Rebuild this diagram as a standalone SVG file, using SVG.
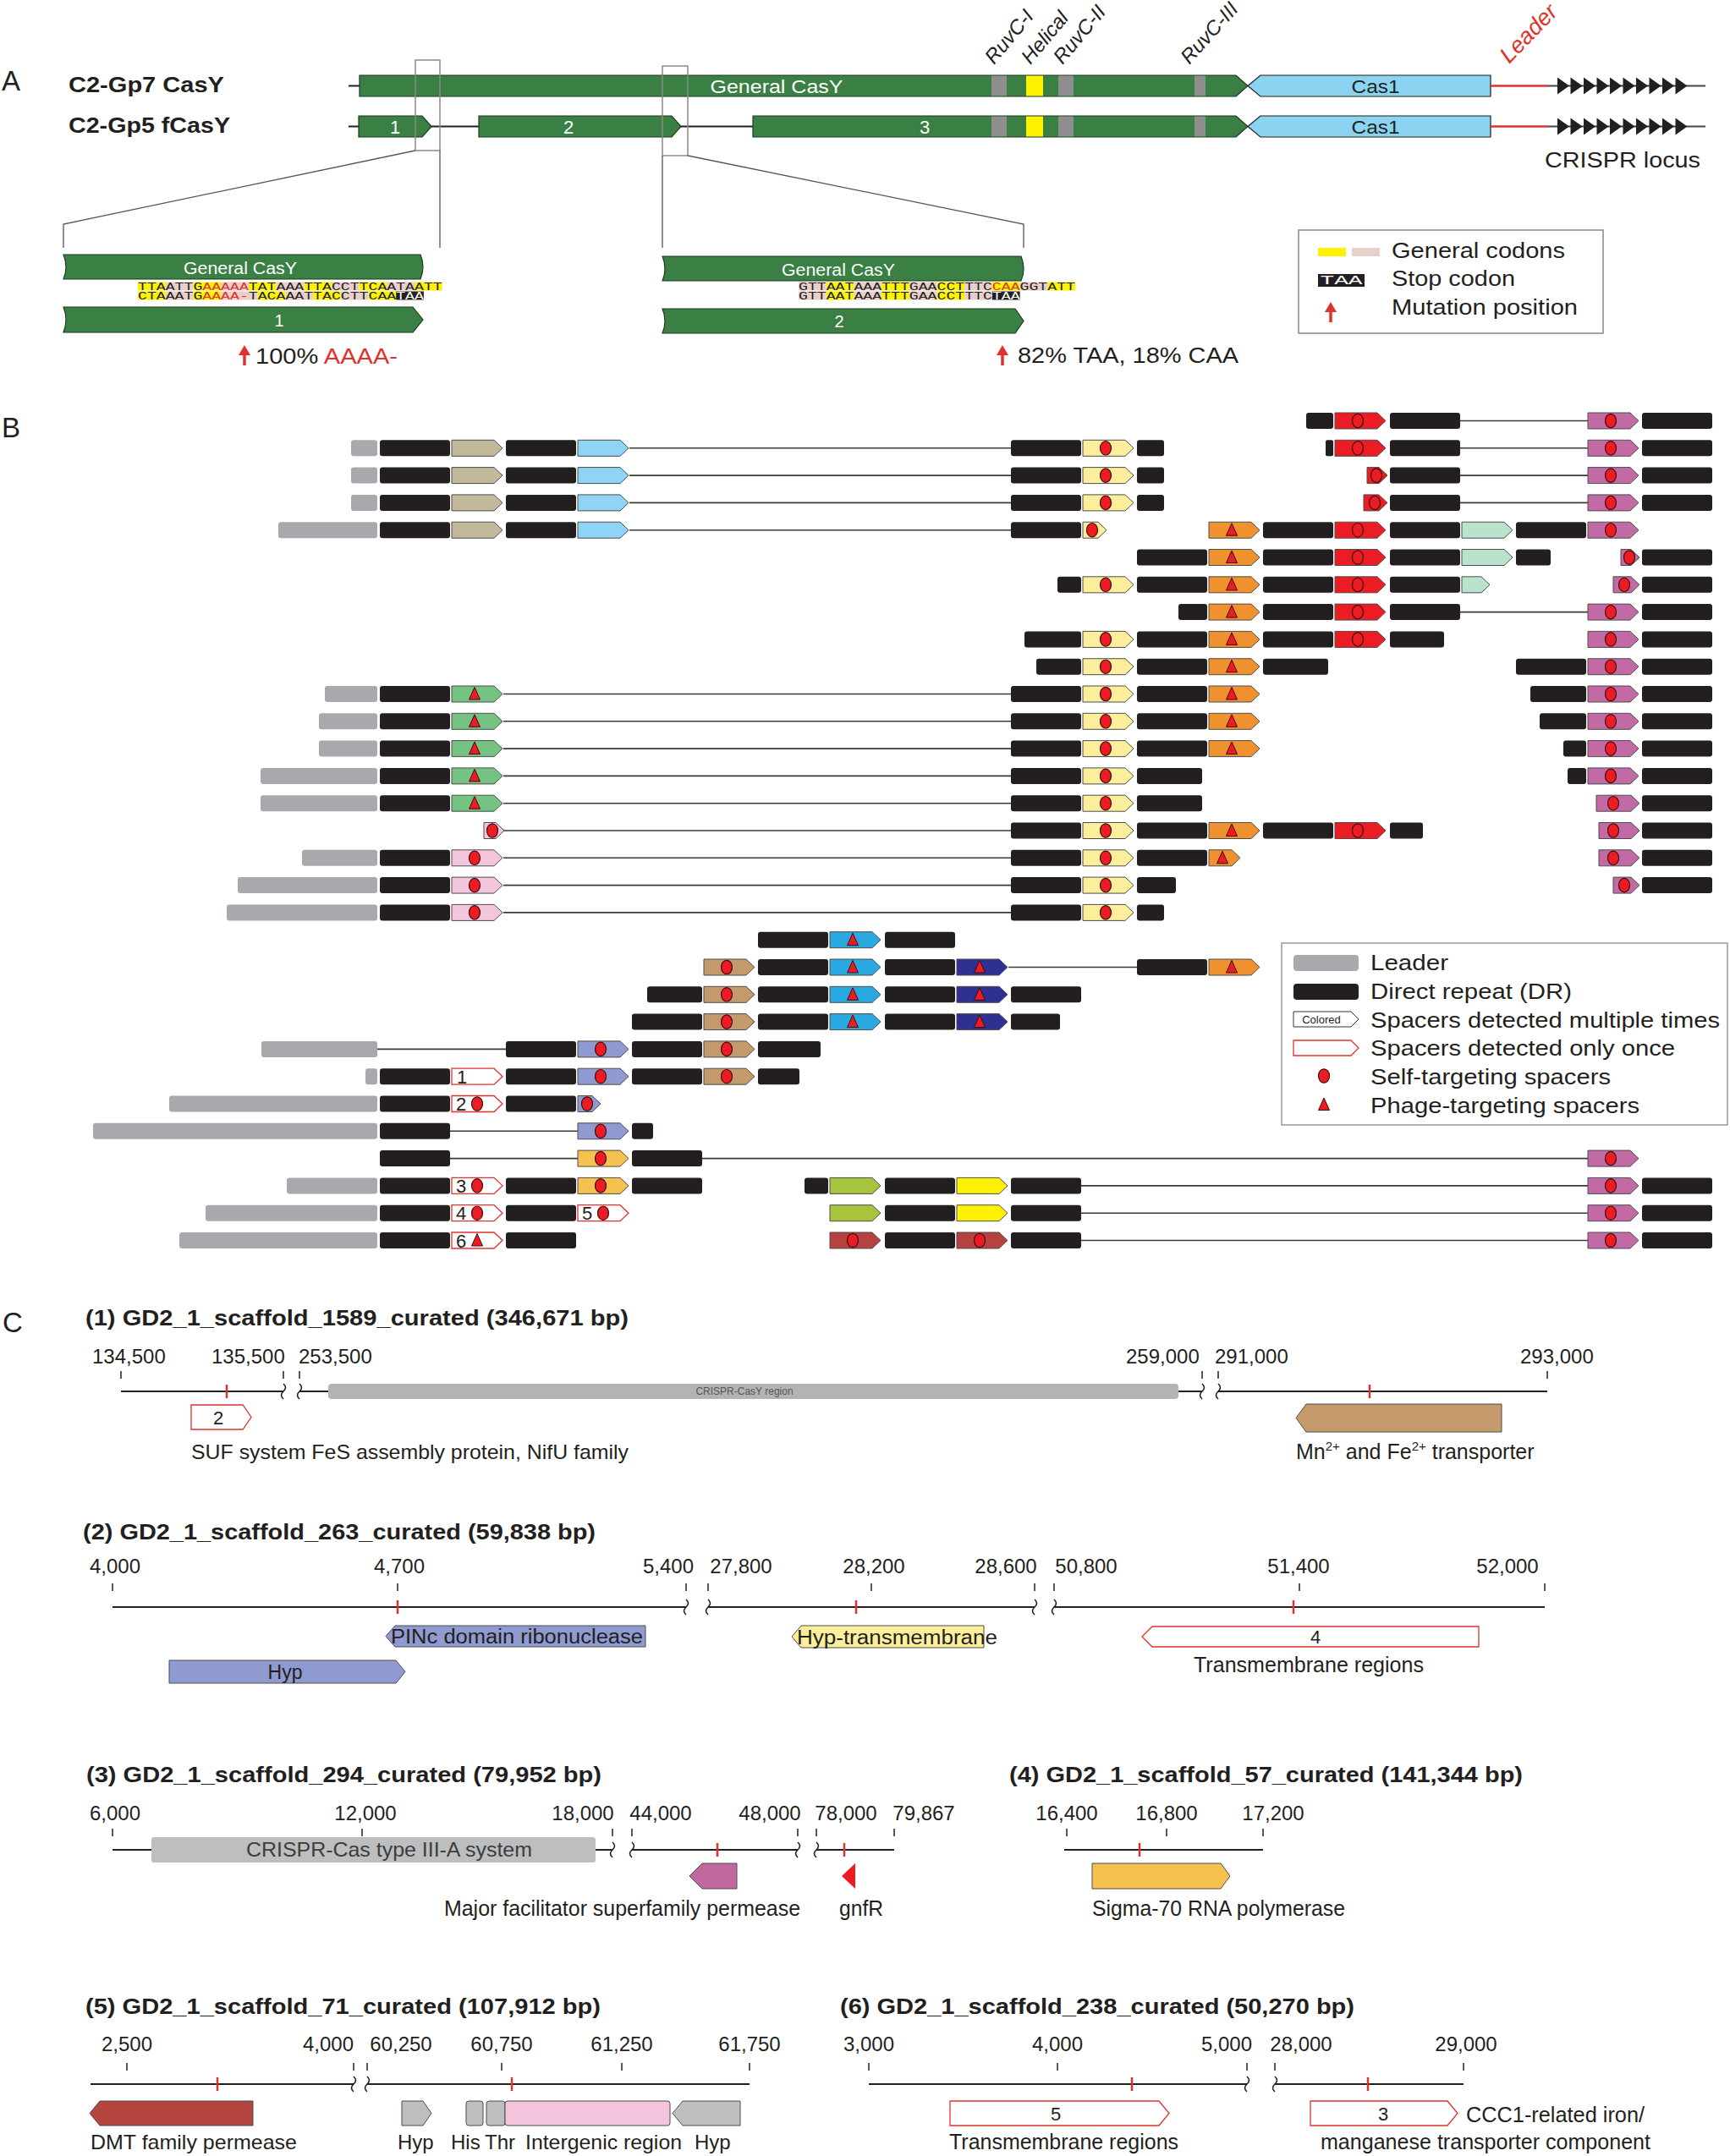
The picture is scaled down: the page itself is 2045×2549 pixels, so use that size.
<svg xmlns="http://www.w3.org/2000/svg" width="2045" height="2549" viewBox="0 0 2045 2549">
<style>
text{font-family:"Liberation Sans",Arial,sans-serif;fill:#231f20}
.b{font-weight:bold}
.wt{fill:#fff}
.it{font-style:italic}
.dr{fill:#231f20}
.ld{fill:#a7a9ac}
.s{stroke:#4d4d4d;stroke-width:1}
.so{fill:#fff;stroke:#e0322c;stroke-width:1.3}
.dt{fill:#ed1c24;stroke:#3b0d0d;stroke-width:1.2}
.tr{fill:#ed1c24;stroke:#3b0d0d;stroke-width:1}
.ln{stroke:#3a3a3a;stroke-width:1.6}
.num{font-size:22px}
.gbar{fill:#3a7f43;stroke:#1e3b22;stroke-width:1.2}
.band{fill:#8e8e8e}
.ybd{fill:#fff200}
.cas1{fill:#8ad3f1;stroke:#231f20;stroke-width:1.2}
.zl{fill:none;stroke:#555;stroke-width:1.3}
.zr{fill:none;stroke:#8a8a8a;stroke-width:1.5}
.seq{font-family:"Liberation Mono","DejaVu Sans Mono",monospace;font-size:12px}
.cy{fill:#fff200}.cp{fill:#e8cfcb}.ck{fill:#231f20}
.lg{font-size:26px}
.tt{font-size:26px;font-weight:bold}
.tl{font-size:24px;text-anchor:middle}
.gl{font-size:24px}
.ax{stroke:#231f20;stroke-width:2;fill:none}
.brk{stroke:#231f20;stroke-width:1.6;fill:none}
.tk{stroke:#231f20;stroke-width:1.5}
.rt{stroke:#e0322c;stroke-width:2.5}
.gs{stroke:#4d4d4d;stroke-width:1}
.c-tan{fill:#c4b89a}.c-lb{fill:#8fd4f5}.c-yl{fill:#fcef9c}.c-rd{fill:#ec1c24}.c-mv{fill:#c26aa4}.c-or{fill:#f0912f}.c-mt{fill:#b9e3cd}.c-gr{fill:#75c382}.c-pk{fill:#f4c6de}.c-bl{fill:#29a9e0}.c-db{fill:#2e3192}.c-br{fill:#c49a6c}.c-lv{fill:#8f9ad0}.c-gd{fill:#f5c14f}.c-ol{fill:#a7c43d}.c-by{fill:#fff200}.c-dr{fill:#b5423e}
</style>
<defs>
<path id="sp" d="M0,-9.5H50L60,0L50,9.5H0Z"/>
<ellipse id="dt" rx="6.5" ry="8.2"/>
<path id="tr" d="M0,-8L6.5,6.5H-6.5Z"/>
<path id="ah" d="M0,-10L14,0L0,10Z"/>
</defs>
<rect width="2045" height="2549" fill="#fff"/>

<!-- ================= PANEL A ================= -->
<g id="panel-a-labels">
<text x="2" y="107" font-size="33">A</text>
<text x="81" y="109" class="b" font-size="26" textLength="184" lengthAdjust="spacingAndGlyphs">C2-Gp7 CasY</text>
<text x="81" y="157" class="b" font-size="26" textLength="191" lengthAdjust="spacingAndGlyphs">C2-Gp5 fCasY</text>
</g>

<g id="a-row1">
<line x1="412" y1="101.5" x2="425" y2="101.5" stroke="#231f20" stroke-width="2"/>
<path class="gbar" d="M425,89H1461L1475,101.5L1461,114H425Z"/>
<rect class="band" x="1172" y="89.6" width="18" height="23.8"/>
<rect class="ybd" x="1213" y="89.6" width="20" height="23.8"/>
<rect class="band" x="1251" y="89.6" width="18" height="23.8"/>
<rect class="band" x="1412" y="89.6" width="13" height="23.8"/>
<text x="918" y="110" class="wt" font-size="22" text-anchor="middle" textLength="157" lengthAdjust="spacingAndGlyphs">General CasY</text>
<path class="cas1" d="M1475,101.5L1490,89H1762V114H1490Z"/>
<text x="1626" y="110" font-size="22" text-anchor="middle" textLength="57" lengthAdjust="spacingAndGlyphs">Cas1</text>
<line x1="1830" y1="101.5" x2="2016" y2="101.5" stroke="#444" stroke-width="2"/>
<line x1="1762" y1="101.5" x2="1830" y2="101.5" stroke="#e0322c" stroke-width="2.5"/>
<g fill="#231f20">
<use href="#ah" x="1841" y="101.5"/><use href="#ah" x="1856.5" y="101.5"/><use href="#ah" x="1872" y="101.5"/><use href="#ah" x="1887.5" y="101.5"/><use href="#ah" x="1903" y="101.5"/><use href="#ah" x="1918.5" y="101.5"/><use href="#ah" x="1934" y="101.5"/><use href="#ah" x="1949.5" y="101.5"/><use href="#ah" x="1965" y="101.5"/><use href="#ah" x="1980.5" y="101.5"/>
</g>
</g>

<g id="a-row2">
<line x1="412" y1="149.5" x2="890" y2="149.5" stroke="#231f20" stroke-width="2"/>
<path class="gbar" d="M424,137H499L510,149.5L499,162H424Z"/>
<text x="467" y="158" class="wt" font-size="22" text-anchor="middle">1</text>
<path class="gbar" d="M566,137H794L805,149.5L794,162H566Z"/>
<text x="672" y="158" class="wt" font-size="22" text-anchor="middle">2</text>
<path class="gbar" d="M890,137H1461L1475,149.5L1461,162H890Z"/>
<text x="1093" y="158" class="wt" font-size="22" text-anchor="middle">3</text>
<rect class="band" x="1172" y="137.6" width="18" height="23.8"/>
<rect class="ybd" x="1213" y="137.6" width="20" height="23.8"/>
<rect class="band" x="1251" y="137.6" width="18" height="23.8"/>
<rect class="band" x="1412" y="137.6" width="13" height="23.8"/>
<path class="cas1" d="M1475,149.5L1490,137H1762V162H1490Z"/>
<text x="1626" y="158" font-size="22" text-anchor="middle" textLength="57" lengthAdjust="spacingAndGlyphs">Cas1</text>
<line x1="1830" y1="149.5" x2="2016" y2="149.5" stroke="#444" stroke-width="2"/>
<line x1="1762" y1="149.5" x2="1830" y2="149.5" stroke="#e0322c" stroke-width="2.5"/>
<g fill="#231f20">
<use href="#ah" x="1841" y="149.5"/><use href="#ah" x="1856.5" y="149.5"/><use href="#ah" x="1872" y="149.5"/><use href="#ah" x="1887.5" y="149.5"/><use href="#ah" x="1903" y="149.5"/><use href="#ah" x="1918.5" y="149.5"/><use href="#ah" x="1934" y="149.5"/><use href="#ah" x="1949.5" y="149.5"/><use href="#ah" x="1965" y="149.5"/><use href="#ah" x="1980.5" y="149.5"/>
</g>
<text x="1918" y="198" font-size="26" text-anchor="middle" textLength="184" lengthAdjust="spacingAndGlyphs">CRISPR locus</text>
</g>

<g id="a-domain-labels" font-size="24">
<text class="it" transform="translate(1175,77) rotate(-50)">RuvC-I</text>
<text class="it" transform="translate(1218,77) rotate(-50)">Helical</text>
<text class="it" transform="translate(1256,77) rotate(-50)">RuvC-II</text>
<text class="it" transform="translate(1406,77) rotate(-48)">RuvC-III</text>
<text class="it" transform="translate(1784,76) rotate(-46)" font-size="27" style="fill:#e0322c">Leader</text>
</g>

<g id="a-zoom-connectors">
<rect class="zr" x="491" y="71" width="29" height="107"/>
<rect class="zr" x="783" y="78" width="30" height="106"/>
<polyline class="zl" points="491,178 75,265 75,293"/>
<line class="zl" x1="520" y1="178" x2="520" y2="293"/>
<line class="zl" x1="783" y1="184" x2="783" y2="293"/>
<polyline class="zl" points="813,184 1210,265 1210,293"/>
</g>

<g id="a-zoom-left">
<path class="gbar" d="M75,301H497Q503,315.5 497,330H75Q81,315.5 75,301Z"/>
<text x="284" y="324" class="wt" font-size="20" text-anchor="middle" textLength="134" lengthAdjust="spacingAndGlyphs">General CasY</text>
<rect class="cy" x="163" y="333.5" width="32.7" height="10"/><rect class="cp" x="195.7" y="333.5" width="32.7" height="10"/><rect class="cy" x="228.4" y="333.5" width="32.7" height="10"/><rect class="cp" x="261.1" y="333.5" width="32.7" height="10"/><rect class="cy" x="293.8" y="333.5" width="32.7" height="10"/><rect class="cp" x="326.5" y="333.5" width="32.7" height="10"/><rect class="cy" x="359.2" y="333.5" width="32.7" height="10"/><rect class="cp" x="391.9" y="333.5" width="32.7" height="10"/><rect class="cy" x="424.6" y="333.5" width="32.7" height="10"/><rect class="cp" x="457.3" y="333.5" width="32.7" height="10"/><rect class="cy" x="490" y="333.5" width="32.7" height="10"/>
<text class="seq" x="163" y="342.5" textLength="359.7" lengthAdjust="spacingAndGlyphs">TTAATTG<tspan style="fill:#e0322c">AAAAA</tspan>TATAAATTACCTTCAATAATT</text>
<rect class="cy" x="163" y="344.5" width="32.7" height="10"/><rect class="cp" x="195.7" y="344.5" width="32.7" height="10"/><rect class="cy" x="228.4" y="344.5" width="32.7" height="10"/><rect class="cp" x="261.1" y="344.5" width="43.6" height="10"/><rect class="cy" x="304.7" y="344.5" width="32.7" height="10"/><rect class="cp" x="337.4" y="344.5" width="32.7" height="10"/><rect class="cy" x="370.1" y="344.5" width="32.7" height="10"/><rect class="cp" x="402.8" y="344.5" width="32.7" height="10"/><rect class="cy" x="435.5" y="344.5" width="32.7" height="10"/><rect class="ck" x="468.2" y="344.5" width="32.7" height="10"/>
<text class="seq" x="163" y="353.5" textLength="337.9" lengthAdjust="spacingAndGlyphs">CTAAATG<tspan style="fill:#e0322c">AAAA-</tspan>TACAAATTACCTTCAA<tspan style="fill:#fff">TAA</tspan></text>
<path class="gbar" d="M75,363H488L500,378L488,393H75Q81,378 75,363Z"/>
<text x="330" y="386" class="wt" font-size="20" text-anchor="middle">1</text>
<path d="M289,432V417" stroke="#e0322c" stroke-width="3.5"/>
<path d="M282,420L289,408L296,420Z" fill="#e0322c"/>
<text x="302" y="430" font-size="26" textLength="168" lengthAdjust="spacingAndGlyphs">100% <tspan style="fill:#e0322c">AAAA-</tspan></text>
</g>

<g id="a-zoom-right">
<path class="gbar" d="M783,303H1207Q1213,317.5 1207,332H783Q789,317.5 783,303Z"/>
<text x="991" y="326" class="wt" font-size="20" text-anchor="middle" textLength="134" lengthAdjust="spacingAndGlyphs">General CasY</text>
<rect class="cp" x="944" y="333.5" width="32.7" height="10"/><rect class="cy" x="976.7" y="333.5" width="32.7" height="10"/><rect class="cp" x="1009.4" y="333.5" width="32.7" height="10"/><rect class="cy" x="1042.1" y="333.5" width="32.7" height="10"/><rect class="cp" x="1074.8" y="333.5" width="32.7" height="10"/><rect class="cy" x="1107.5" y="333.5" width="32.7" height="10"/><rect class="cp" x="1140.2" y="333.5" width="32.7" height="10"/><rect class="cy" x="1172.9" y="333.5" width="32.7" height="10"/><rect class="cp" x="1205.6" y="333.5" width="32.7" height="10"/><rect class="cy" x="1238.3" y="333.5" width="32.7" height="10"/>
<text class="seq" x="944" y="342.5" textLength="327" lengthAdjust="spacingAndGlyphs">GTTAATAAATTTGAACCTTTC<tspan style="fill:#e0322c">CAA</tspan>GGTATT</text>
<rect class="cp" x="944" y="344.5" width="32.7" height="10"/><rect class="cy" x="976.7" y="344.5" width="32.7" height="10"/><rect class="cp" x="1009.4" y="344.5" width="32.7" height="10"/><rect class="cy" x="1042.1" y="344.5" width="32.7" height="10"/><rect class="cp" x="1074.8" y="344.5" width="32.7" height="10"/><rect class="cy" x="1107.5" y="344.5" width="32.7" height="10"/><rect class="cp" x="1140.2" y="344.5" width="32.7" height="10"/><rect class="ck" x="1172.9" y="344.5" width="32.7" height="10"/>
<text class="seq" x="944" y="353.5" textLength="261.6" lengthAdjust="spacingAndGlyphs">GTTAATAAATTTGAACCTTTC<tspan style="fill:#fff">TAA</tspan></text>
<path class="gbar" d="M783,365H1200L1210,379.5L1200,394H783Q789,379.5 783,365Z"/>
<text x="992" y="387" class="wt" font-size="20" text-anchor="middle">2</text>
<path d="M1185,432V417" stroke="#e0322c" stroke-width="3.5"/>
<path d="M1178,420L1185,408L1192,420Z" fill="#e0322c"/>
<text x="1203" y="429" font-size="26" textLength="261" lengthAdjust="spacingAndGlyphs">82% TAA, 18% CAA</text>
</g>

<g id="a-legend">
<rect x="1535" y="272" width="360" height="122" fill="#fff" stroke="#888" stroke-width="1.5"/>
<rect class="cy" x="1558" y="293" width="33" height="10"/>
<rect class="cp" x="1598" y="293" width="33" height="10"/>
<text x="1645" y="305" class="lg" textLength="205" lengthAdjust="spacingAndGlyphs">General codons</text>
<rect x="1558" y="324" width="55" height="15" fill="#231f20"/>
<text x="1585.5" y="336" class="seq" text-anchor="middle" style="fill:#fff;font-size:15px" textLength="50" lengthAdjust="spacingAndGlyphs">TAA</text>
<text x="1645" y="338" class="lg" textLength="146" lengthAdjust="spacingAndGlyphs">Stop codon</text>
<path d="M1573,381V366" stroke="#e0322c" stroke-width="3.5"/>
<path d="M1566,369L1573,357L1580,369Z" fill="#e0322c"/>
<text x="1645" y="372" class="lg" textLength="220" lengthAdjust="spacingAndGlyphs">Mutation position</text>
</g>

<!-- ================= PANEL B ================= -->
<text x="2" y="517" font-size="33">B</text>

<g id="b-rows">
<g id="b-r0" transform="translate(0,497.5)">
<line class="ln" x1="1726" x2="1877"/>
<rect class="dr" x="1544" y="-9.5" width="32" height="19" rx="3"/>
<use href="#sp" x="1578" class="s c-rd"/><use href="#dt" x="1605" class="dt"/>
<rect class="dr" x="1643" y="-9.5" width="83" height="19" rx="3"/>
<use href="#sp" x="1877" class="s c-mv"/><use href="#dt" x="1904" class="dt"/>
<rect class="dr" x="1941" y="-9.5" width="83" height="19" rx="3"/>
</g>
<g id="b-r1" transform="translate(0,529.8)">
<line class="ln" x1="744" x2="1195"/><line class="ln" x1="1726" x2="1877"/>
<rect class="ld" x="415" y="-9.5" width="31" height="19" rx="3"/>
<rect class="dr" x="449" y="-9.5" width="83" height="19" rx="3"/>
<use href="#sp" x="534" class="s c-tan"/>
<rect class="dr" x="598" y="-9.5" width="83" height="19" rx="3"/>
<use href="#sp" x="683" class="s c-lb"/>
<rect class="dr" x="1195" y="-9.5" width="83" height="19" rx="3"/>
<use href="#sp" x="1280" class="s c-yl"/><use href="#dt" x="1307" class="dt"/>
<rect class="dr" x="1344" y="-9.5" width="32" height="19" rx="3"/>
<rect class="dr" x="1567" y="-9.5" width="9" height="19" rx="2"/>
<use href="#sp" x="1578" class="s c-rd"/><use href="#dt" x="1605" class="dt"/>
<rect class="dr" x="1643" y="-9.5" width="83" height="19" rx="3"/>
<use href="#sp" x="1877" class="s c-mv"/><use href="#dt" x="1904" class="dt"/>
<rect class="dr" x="1941" y="-9.5" width="83" height="19" rx="3"/>
</g>
<g id="b-r2" transform="translate(0,562.1)">
<line class="ln" x1="744" x2="1195"/><line class="ln" x1="1726" x2="1877"/>
<rect class="ld" x="415" y="-9.5" width="31" height="19" rx="3"/>
<rect class="dr" x="449" y="-9.5" width="83" height="19" rx="3"/>
<use href="#sp" x="534" class="s c-tan"/>
<rect class="dr" x="598" y="-9.5" width="83" height="19" rx="3"/>
<use href="#sp" x="683" class="s c-lb"/>
<rect class="dr" x="1195" y="-9.5" width="83" height="19" rx="3"/>
<use href="#sp" x="1280" class="s c-yl"/><use href="#dt" x="1307" class="dt"/>
<rect class="dr" x="1344" y="-9.5" width="32" height="19" rx="3"/>
<path class="s c-rd" d="M1616,-9.5H1630L1640,0L1630,9.5H1616Z"/><use href="#dt" x="1627" class="dt"/>
<rect class="dr" x="1643" y="-9.5" width="83" height="19" rx="3"/>
<use href="#sp" x="1877" class="s c-mv"/><use href="#dt" x="1904" class="dt"/>
<rect class="dr" x="1941" y="-9.5" width="83" height="19" rx="3"/>
</g>
<g id="b-r3" transform="translate(0,594.4)">
<line class="ln" x1="744" x2="1195"/><line class="ln" x1="1726" x2="1877"/>
<rect class="ld" x="415" y="-9.5" width="31" height="19" rx="3"/>
<rect class="dr" x="449" y="-9.5" width="83" height="19" rx="3"/>
<use href="#sp" x="534" class="s c-tan"/>
<rect class="dr" x="598" y="-9.5" width="83" height="19" rx="3"/>
<use href="#sp" x="683" class="s c-lb"/>
<rect class="dr" x="1195" y="-9.5" width="83" height="19" rx="3"/>
<use href="#sp" x="1280" class="s c-yl"/><use href="#dt" x="1307" class="dt"/>
<rect class="dr" x="1344" y="-9.5" width="32" height="19" rx="3"/>
<path class="s c-rd" d="M1612,-9.5H1630L1640,0L1630,9.5H1612Z"/><use href="#dt" x="1625" class="dt"/>
<rect class="dr" x="1643" y="-9.5" width="83" height="19" rx="3"/>
<use href="#sp" x="1877" class="s c-mv"/><use href="#dt" x="1904" class="dt"/>
<rect class="dr" x="1941" y="-9.5" width="83" height="19" rx="3"/>
</g>
<g id="b-r4" transform="translate(0,626.7)">
<line class="ln" x1="744" x2="1195"/>
<rect class="ld" x="329" y="-9.5" width="117" height="19" rx="3"/>
<rect class="dr" x="449" y="-9.5" width="83" height="19" rx="3"/>
<use href="#sp" x="534" class="s c-tan"/>
<rect class="dr" x="598" y="-9.5" width="83" height="19" rx="3"/>
<use href="#sp" x="683" class="s c-lb"/>
<rect class="dr" x="1195" y="-9.5" width="83" height="19" rx="3"/>
<path class="s c-yl" d="M1280,-9.5H1298L1308,0L1298,9.5H1280Z"/><use href="#dt" x="1291" class="dt"/>
<use href="#sp" x="1429" class="s c-or"/><use href="#tr" x="1456" class="tr"/>
<rect class="dr" x="1493" y="-9.5" width="83" height="19" rx="3"/>
<use href="#sp" x="1578" class="s c-rd"/><use href="#dt" x="1605" class="dt"/>
<rect class="dr" x="1643" y="-9.5" width="83" height="19" rx="3"/>
<use href="#sp" x="1728" class="s c-mt"/>
<rect class="dr" x="1792" y="-9.5" width="83" height="19" rx="3"/>
<use href="#sp" x="1877" class="s c-mv"/><use href="#dt" x="1904" class="dt"/>
</g>
<g id="b-r5" transform="translate(0,659)">
<rect class="dr" x="1344" y="-9.5" width="83" height="19" rx="3"/>
<use href="#sp" x="1429" class="s c-or"/><use href="#tr" x="1456" class="tr"/>
<rect class="dr" x="1493" y="-9.5" width="83" height="19" rx="3"/>
<use href="#sp" x="1578" class="s c-rd"/><use href="#dt" x="1605" class="dt"/>
<rect class="dr" x="1643" y="-9.5" width="83" height="19" rx="3"/>
<use href="#sp" x="1728" class="s c-mt"/>
<rect class="dr" x="1792" y="-9.5" width="41" height="19" rx="3"/>
<path class="s c-mv" d="M1916,-9.5H1928L1938,0L1928,9.5H1916Z"/><use href="#dt" x="1926" class="dt"/>
<rect class="dr" x="1941" y="-9.5" width="83" height="19" rx="3"/>
</g>
<g id="b-r6" transform="translate(0,691.3)">
<rect class="dr" x="1250" y="-9.5" width="28" height="19" rx="3"/>
<use href="#sp" x="1280" class="s c-yl"/><use href="#dt" x="1307" class="dt"/>
<rect class="dr" x="1344" y="-9.5" width="83" height="19" rx="3"/>
<use href="#sp" x="1429" class="s c-or"/><use href="#tr" x="1456" class="tr"/>
<rect class="dr" x="1493" y="-9.5" width="83" height="19" rx="3"/>
<use href="#sp" x="1578" class="s c-rd"/><use href="#dt" x="1605" class="dt"/>
<rect class="dr" x="1643" y="-9.5" width="83" height="19" rx="3"/>
<path class="s c-mt" d="M1728,-9.5H1751L1761,0L1751,9.5H1728Z"/>
<path class="s c-mv" d="M1907,-9.5H1928L1938,0L1928,9.5H1907Z"/><use href="#dt" x="1920" class="dt"/>
<rect class="dr" x="1941" y="-9.5" width="83" height="19" rx="3"/>
</g>
<g id="b-r7" transform="translate(0,723.6)">
<line class="ln" x1="1726" x2="1877"/>
<rect class="dr" x="1393" y="-9.5" width="34" height="19" rx="3"/>
<use href="#sp" x="1429" class="s c-or"/><use href="#tr" x="1456" class="tr"/>
<rect class="dr" x="1493" y="-9.5" width="83" height="19" rx="3"/>
<use href="#sp" x="1578" class="s c-rd"/><use href="#dt" x="1605" class="dt"/>
<rect class="dr" x="1643" y="-9.5" width="83" height="19" rx="3"/>
<use href="#sp" x="1877" class="s c-mv"/><use href="#dt" x="1904" class="dt"/>
<rect class="dr" x="1941" y="-9.5" width="83" height="19" rx="3"/>
</g>
<g id="b-r8" transform="translate(0,755.9)">
<rect class="dr" x="1211" y="-9.5" width="67" height="19" rx="3"/>
<use href="#sp" x="1280" class="s c-yl"/><use href="#dt" x="1307" class="dt"/>
<rect class="dr" x="1344" y="-9.5" width="83" height="19" rx="3"/>
<use href="#sp" x="1429" class="s c-or"/><use href="#tr" x="1456" class="tr"/>
<rect class="dr" x="1493" y="-9.5" width="83" height="19" rx="3"/>
<use href="#sp" x="1578" class="s c-rd"/><use href="#dt" x="1605" class="dt"/>
<rect class="dr" x="1643" y="-9.5" width="64" height="19" rx="3"/>
<use href="#sp" x="1877" class="s c-mv"/><use href="#dt" x="1904" class="dt"/>
<rect class="dr" x="1941" y="-9.5" width="83" height="19" rx="3"/>
</g>
<g id="b-r9" transform="translate(0,788.2)">
<rect class="dr" x="1225" y="-9.5" width="53" height="19" rx="3"/>
<use href="#sp" x="1280" class="s c-yl"/><use href="#dt" x="1307" class="dt"/>
<rect class="dr" x="1344" y="-9.5" width="83" height="19" rx="3"/>
<use href="#sp" x="1429" class="s c-or"/><use href="#tr" x="1456" class="tr"/>
<rect class="dr" x="1493" y="-9.5" width="77" height="19" rx="3"/>
<rect class="dr" x="1792" y="-9.5" width="83" height="19" rx="3"/>
<use href="#sp" x="1877" class="s c-mv"/><use href="#dt" x="1904" class="dt"/>
<rect class="dr" x="1941" y="-9.5" width="83" height="19" rx="3"/>
</g>
<g id="b-r10" transform="translate(0,820.5)">
<line class="ln" x1="595" x2="1195"/>
<rect class="ld" x="384" y="-9.5" width="62" height="19" rx="3"/>
<rect class="dr" x="449" y="-9.5" width="83" height="19" rx="3"/>
<use href="#sp" x="534" class="s c-gr"/><use href="#tr" x="561" class="tr"/>
<rect class="dr" x="1195" y="-9.5" width="83" height="19" rx="3"/>
<use href="#sp" x="1280" class="s c-yl"/><use href="#dt" x="1307" class="dt"/>
<rect class="dr" x="1344" y="-9.5" width="83" height="19" rx="3"/>
<use href="#sp" x="1429" class="s c-or"/><use href="#tr" x="1456" class="tr"/>
<rect class="dr" x="1809" y="-9.5" width="66" height="19" rx="3"/>
<use href="#sp" x="1877" class="s c-mv"/><use href="#dt" x="1904" class="dt"/>
<rect class="dr" x="1941" y="-9.5" width="83" height="19" rx="3"/>
</g>
<g id="b-r11" transform="translate(0,852.8)">
<line class="ln" x1="595" x2="1195"/>
<rect class="ld" x="377" y="-9.5" width="69" height="19" rx="3"/>
<rect class="dr" x="449" y="-9.5" width="83" height="19" rx="3"/>
<use href="#sp" x="534" class="s c-gr"/><use href="#tr" x="561" class="tr"/>
<rect class="dr" x="1195" y="-9.5" width="83" height="19" rx="3"/>
<use href="#sp" x="1280" class="s c-yl"/><use href="#dt" x="1307" class="dt"/>
<rect class="dr" x="1344" y="-9.5" width="83" height="19" rx="3"/>
<use href="#sp" x="1429" class="s c-or"/><use href="#tr" x="1456" class="tr"/>
<rect class="dr" x="1820" y="-9.5" width="55" height="19" rx="3"/>
<use href="#sp" x="1877" class="s c-mv"/><use href="#dt" x="1904" class="dt"/>
<rect class="dr" x="1941" y="-9.5" width="83" height="19" rx="3"/>
</g>
<g id="b-r12" transform="translate(0,885.1)">
<line class="ln" x1="595" x2="1195"/>
<rect class="ld" x="377" y="-9.5" width="69" height="19" rx="3"/>
<rect class="dr" x="449" y="-9.5" width="83" height="19" rx="3"/>
<use href="#sp" x="534" class="s c-gr"/><use href="#tr" x="561" class="tr"/>
<rect class="dr" x="1195" y="-9.5" width="83" height="19" rx="3"/>
<use href="#sp" x="1280" class="s c-yl"/><use href="#dt" x="1307" class="dt"/>
<rect class="dr" x="1344" y="-9.5" width="83" height="19" rx="3"/>
<use href="#sp" x="1429" class="s c-or"/><use href="#tr" x="1456" class="tr"/>
<rect class="dr" x="1848" y="-9.5" width="27" height="19" rx="3"/>
<use href="#sp" x="1877" class="s c-mv"/><use href="#dt" x="1904" class="dt"/>
<rect class="dr" x="1941" y="-9.5" width="83" height="19" rx="3"/>
</g>
<g id="b-r13" transform="translate(0,917.4)">
<line class="ln" x1="595" x2="1195"/>
<rect class="ld" x="308" y="-9.5" width="138" height="19" rx="3"/>
<rect class="dr" x="449" y="-9.5" width="83" height="19" rx="3"/>
<use href="#sp" x="534" class="s c-gr"/><use href="#tr" x="561" class="tr"/>
<rect class="dr" x="1195" y="-9.5" width="83" height="19" rx="3"/>
<use href="#sp" x="1280" class="s c-yl"/><use href="#dt" x="1307" class="dt"/>
<rect class="dr" x="1344" y="-9.5" width="77" height="19" rx="3"/>
<rect class="dr" x="1853" y="-9.5" width="22" height="19" rx="3"/>
<use href="#sp" x="1877" class="s c-mv"/><use href="#dt" x="1904" class="dt"/>
<rect class="dr" x="1941" y="-9.5" width="83" height="19" rx="3"/>
</g>
<g id="b-r14" transform="translate(0,949.7)">
<line class="ln" x1="595" x2="1195"/>
<rect class="ld" x="308" y="-9.5" width="138" height="19" rx="3"/>
<rect class="dr" x="449" y="-9.5" width="83" height="19" rx="3"/>
<use href="#sp" x="534" class="s c-gr"/><use href="#tr" x="561" class="tr"/>
<rect class="dr" x="1195" y="-9.5" width="83" height="19" rx="3"/>
<use href="#sp" x="1280" class="s c-yl"/><use href="#dt" x="1307" class="dt"/>
<rect class="dr" x="1344" y="-9.5" width="77" height="19" rx="3"/>
<path class="s c-mv" d="M1887,-9.5H1928L1938,0L1928,9.5H1887Z"/><use href="#dt" x="1907" class="dt"/>
<rect class="dr" x="1941" y="-9.5" width="83" height="19" rx="3"/>
</g>
<g id="b-r15" transform="translate(0,982)">
<line class="ln" x1="596" x2="1195"/>
<path class="s c-pk" d="M572,-9.5H586L596,0L586,9.5H572Z"/><use href="#dt" x="582" class="dt"/>
<rect class="dr" x="1195" y="-9.5" width="83" height="19" rx="3"/>
<use href="#sp" x="1280" class="s c-yl"/><use href="#dt" x="1307" class="dt"/>
<rect class="dr" x="1344" y="-9.5" width="83" height="19" rx="3"/>
<use href="#sp" x="1429" class="s c-or"/><use href="#tr" x="1456" class="tr"/>
<rect class="dr" x="1493" y="-9.5" width="83" height="19" rx="3"/>
<use href="#sp" x="1578" class="s c-rd"/><use href="#dt" x="1605" class="dt"/>
<rect class="dr" x="1643" y="-9.5" width="39" height="19" rx="3"/>
<path class="s c-mv" d="M1890,-9.5H1928L1938,0L1928,9.5H1890Z"/><use href="#dt" x="1907" class="dt"/>
<rect class="dr" x="1941" y="-9.5" width="83" height="19" rx="3"/>
</g>
<g id="b-r16" transform="translate(0,1014.3)">
<line class="ln" x1="595" x2="1195"/>
<rect class="ld" x="357" y="-9.5" width="89" height="19" rx="3"/>
<rect class="dr" x="449" y="-9.5" width="83" height="19" rx="3"/>
<use href="#sp" x="534" class="s c-pk"/><use href="#dt" x="561" class="dt"/>
<rect class="dr" x="1195" y="-9.5" width="83" height="19" rx="3"/>
<use href="#sp" x="1280" class="s c-yl"/><use href="#dt" x="1307" class="dt"/>
<rect class="dr" x="1344" y="-9.5" width="83" height="19" rx="3"/>
<path class="s c-or" d="M1429,-9.5H1456L1466,0L1456,9.5H1429Z"/><use href="#tr" x="1445" class="tr"/>
<path class="s c-mv" d="M1890,-9.5H1928L1938,0L1928,9.5H1890Z"/><use href="#dt" x="1907" class="dt"/>
<rect class="dr" x="1941" y="-9.5" width="83" height="19" rx="3"/>
</g>
<g id="b-r17" transform="translate(0,1046.6)">
<line class="ln" x1="595" x2="1195"/>
<rect class="ld" x="281" y="-9.5" width="165" height="19" rx="3"/>
<rect class="dr" x="449" y="-9.5" width="83" height="19" rx="3"/>
<use href="#sp" x="534" class="s c-pk"/><use href="#dt" x="561" class="dt"/>
<rect class="dr" x="1195" y="-9.5" width="83" height="19" rx="3"/>
<use href="#sp" x="1280" class="s c-yl"/><use href="#dt" x="1307" class="dt"/>
<rect class="dr" x="1344" y="-9.5" width="46" height="19" rx="3"/>
<path class="s c-mv" d="M1907,-9.5H1928L1938,0L1928,9.5H1907Z"/><use href="#dt" x="1920" class="dt"/>
<rect class="dr" x="1941" y="-9.5" width="83" height="19" rx="3"/>
</g>
<g id="b-r18" transform="translate(0,1078.9)">
<line class="ln" x1="595" x2="1195"/>
<rect class="ld" x="268" y="-9.5" width="178" height="19" rx="3"/>
<rect class="dr" x="449" y="-9.5" width="83" height="19" rx="3"/>
<use href="#sp" x="534" class="s c-pk"/><use href="#dt" x="561" class="dt"/>
<rect class="dr" x="1195" y="-9.5" width="83" height="19" rx="3"/>
<use href="#sp" x="1280" class="s c-yl"/><use href="#dt" x="1307" class="dt"/>
<rect class="dr" x="1344" y="-9.5" width="32" height="19" rx="3"/>
</g>
<g id="b-r19" transform="translate(0,1111.2)">
<rect class="dr" x="896" y="-9.5" width="83" height="19" rx="3"/>
<use href="#sp" x="981" class="s c-bl"/><use href="#tr" x="1008" class="tr"/>
<rect class="dr" x="1046" y="-9.5" width="83" height="19" rx="3"/>
</g>
<g id="b-r20" transform="translate(0,1143.5)">
<line class="ln" x1="1192" x2="1344"/>
<use href="#sp" x="832" class="s c-br"/><use href="#dt" x="859" class="dt"/>
<rect class="dr" x="896" y="-9.5" width="83" height="19" rx="3"/>
<use href="#sp" x="981" class="s c-bl"/><use href="#tr" x="1008" class="tr"/>
<rect class="dr" x="1046" y="-9.5" width="83" height="19" rx="3"/>
<use href="#sp" x="1131" class="s c-db"/><use href="#tr" x="1158" class="tr"/>
<rect class="dr" x="1344" y="-9.5" width="83" height="19" rx="3"/>
<use href="#sp" x="1429" class="s c-or"/><use href="#tr" x="1456" class="tr"/>
</g>
<g id="b-r21" transform="translate(0,1175.8)">
<rect class="dr" x="765" y="-9.5" width="65" height="19" rx="3"/>
<use href="#sp" x="832" class="s c-br"/><use href="#dt" x="859" class="dt"/>
<rect class="dr" x="896" y="-9.5" width="83" height="19" rx="3"/>
<use href="#sp" x="981" class="s c-bl"/><use href="#tr" x="1008" class="tr"/>
<rect class="dr" x="1046" y="-9.5" width="83" height="19" rx="3"/>
<use href="#sp" x="1131" class="s c-db"/><use href="#tr" x="1158" class="tr"/>
<rect class="dr" x="1195" y="-9.5" width="83" height="19" rx="3"/>
</g>
<g id="b-r22" transform="translate(0,1208.1)">
<rect class="dr" x="747" y="-9.5" width="83" height="19" rx="3"/>
<use href="#sp" x="832" class="s c-br"/><use href="#dt" x="859" class="dt"/>
<rect class="dr" x="896" y="-9.5" width="83" height="19" rx="3"/>
<use href="#sp" x="981" class="s c-bl"/><use href="#tr" x="1008" class="tr"/>
<rect class="dr" x="1046" y="-9.5" width="83" height="19" rx="3"/>
<use href="#sp" x="1131" class="s c-db"/><use href="#tr" x="1158" class="tr"/>
<rect class="dr" x="1195" y="-9.5" width="58" height="19" rx="3"/>
</g>
<g id="b-r23" transform="translate(0,1240.4)">
<line class="ln" x1="446" x2="598"/>
<rect class="ld" x="309" y="-9.5" width="137" height="19" rx="3"/>
<rect class="dr" x="598" y="-9.5" width="83" height="19" rx="3"/>
<use href="#sp" x="683" class="s c-lv"/><use href="#dt" x="710" class="dt"/>
<rect class="dr" x="747" y="-9.5" width="83" height="19" rx="3"/>
<use href="#sp" x="832" class="s c-br"/><use href="#dt" x="859" class="dt"/>
<rect class="dr" x="896" y="-9.5" width="74" height="19" rx="3"/>
</g>
<g id="b-r24" transform="translate(0,1272.7)">
<rect class="ld" x="432" y="-9.5" width="14" height="19" rx="3"/>
<rect class="dr" x="449" y="-9.5" width="83" height="19" rx="3"/>
<use href="#sp" x="534" class="so"/><text x="540" y="8" class="num">1</text>
<rect class="dr" x="598" y="-9.5" width="83" height="19" rx="3"/>
<use href="#sp" x="683" class="s c-lv"/><use href="#dt" x="710" class="dt"/>
<rect class="dr" x="747" y="-9.5" width="83" height="19" rx="3"/>
<use href="#sp" x="832" class="s c-br"/><use href="#dt" x="859" class="dt"/>
<rect class="dr" x="896" y="-9.5" width="49" height="19" rx="3"/>
</g>
<g id="b-r25" transform="translate(0,1305)">
<rect class="ld" x="200" y="-9.5" width="246" height="19" rx="3"/>
<rect class="dr" x="449" y="-9.5" width="83" height="19" rx="3"/>
<use href="#sp" x="534" class="so"/><text x="539" y="8" class="num">2</text><use href="#dt" x="564" class="dt"/>
<rect class="dr" x="598" y="-9.5" width="83" height="19" rx="3"/>
<path class="s c-lv" d="M683,-9.5H700L710,0L700,9.5H683Z"/><use href="#dt" x="694" class="dt"/>
</g>
<g id="b-r26" transform="translate(0,1337.3)">
<line class="ln" x1="532" x2="683"/>
<rect class="ld" x="110" y="-9.5" width="336" height="19" rx="3"/>
<rect class="dr" x="449" y="-9.5" width="83" height="19" rx="3"/>
<use href="#sp" x="683" class="s c-lv"/><use href="#dt" x="710" class="dt"/>
<rect class="dr" x="747" y="-9.5" width="25" height="19" rx="3"/>
</g>
<g id="b-r27" transform="translate(0,1369.6)">
<line class="ln" x1="532" x2="683"/><line class="ln" x1="830" x2="1877"/>
<rect class="dr" x="449" y="-9.5" width="83" height="19" rx="3"/>
<use href="#sp" x="683" class="s c-gd"/><use href="#dt" x="710" class="dt"/>
<rect class="dr" x="747" y="-9.5" width="83" height="19" rx="3"/>
<use href="#sp" x="1877" class="s c-mv"/><use href="#dt" x="1904" class="dt"/>
</g>
<g id="b-r28" transform="translate(0,1401.9)">
<line class="ln" x1="1278" x2="1877"/>
<rect class="ld" x="339" y="-9.5" width="107" height="19" rx="3"/>
<rect class="dr" x="449" y="-9.5" width="83" height="19" rx="3"/>
<use href="#sp" x="534" class="so"/><text x="539" y="8" class="num">3</text><use href="#dt" x="564" class="dt"/>
<rect class="dr" x="598" y="-9.5" width="83" height="19" rx="3"/>
<use href="#sp" x="683" class="s c-gd"/><use href="#dt" x="710" class="dt"/>
<rect class="dr" x="747" y="-9.5" width="83" height="19" rx="3"/>
<rect class="dr" x="951" y="-9.5" width="28" height="19" rx="3"/>
<use href="#sp" x="981" class="s c-ol"/>
<rect class="dr" x="1046" y="-9.5" width="83" height="19" rx="3"/>
<use href="#sp" x="1131" class="s c-by"/>
<rect class="dr" x="1195" y="-9.5" width="83" height="19" rx="3"/>
<use href="#sp" x="1877" class="s c-mv"/><use href="#dt" x="1904" class="dt"/>
<rect class="dr" x="1941" y="-9.5" width="83" height="19" rx="3"/>
</g>
<g id="b-r29" transform="translate(0,1434.2)">
<line class="ln" x1="1278" x2="1877"/>
<rect class="ld" x="243" y="-9.5" width="203" height="19" rx="3"/>
<rect class="dr" x="449" y="-9.5" width="83" height="19" rx="3"/>
<use href="#sp" x="534" class="so"/><text x="539" y="8" class="num">4</text><use href="#dt" x="564" class="dt"/>
<rect class="dr" x="598" y="-9.5" width="83" height="19" rx="3"/>
<use href="#sp" x="683" class="so"/><text x="688" y="8" class="num">5</text><use href="#dt" x="713" class="dt"/>
<use href="#sp" x="981" class="s c-ol"/>
<rect class="dr" x="1046" y="-9.5" width="83" height="19" rx="3"/>
<use href="#sp" x="1131" class="s c-by"/>
<rect class="dr" x="1195" y="-9.5" width="83" height="19" rx="3"/>
<use href="#sp" x="1877" class="s c-mv"/><use href="#dt" x="1904" class="dt"/>
<rect class="dr" x="1941" y="-9.5" width="83" height="19" rx="3"/>
</g>
<g id="b-r30" transform="translate(0,1466.5)">
<line class="ln" x1="1278" x2="1877"/>
<rect class="ld" x="212" y="-9.5" width="234" height="19" rx="3"/>
<rect class="dr" x="449" y="-9.5" width="83" height="19" rx="3"/>
<use href="#sp" x="534" class="so"/><text x="539" y="8" class="num">6</text><use href="#tr" x="564" class="tr"/>
<rect class="dr" x="598" y="-9.5" width="83" height="19" rx="3"/>
<use href="#sp" x="981" class="s c-dr"/><use href="#dt" x="1008" class="dt"/>
<rect class="dr" x="1046" y="-9.5" width="83" height="19" rx="3"/>
<use href="#sp" x="1131" class="s c-dr"/><use href="#dt" x="1158" class="dt"/>
<rect class="dr" x="1195" y="-9.5" width="83" height="19" rx="3"/>
<use href="#sp" x="1877" class="s c-mv"/><use href="#dt" x="1904" class="dt"/>
<rect class="dr" x="1941" y="-9.5" width="83" height="19" rx="3"/>
</g>
</g>

<g id="b-legend">
<rect x="1515" y="1115" width="527" height="215" fill="#fff" stroke="#999" stroke-width="1.5"/>
<rect class="ld" x="1529" y="1129" width="77" height="19" rx="4"/>
<text x="1620" y="1147" class="lg" textLength="92" lengthAdjust="spacingAndGlyphs">Leader</text>
<rect class="dr" x="1529" y="1163" width="77" height="19" rx="4"/>
<text x="1620" y="1181" class="lg" textLength="238" lengthAdjust="spacingAndGlyphs">Direct repeat (DR)</text>
<path d="M1529,1196H1597L1606,1205L1597,1214H1529Z" fill="#fff" stroke="#333" stroke-width="1"/>
<text x="1562" y="1210" font-size="13" text-anchor="middle">Colored</text>
<text x="1620" y="1215" class="lg" textLength="413" lengthAdjust="spacingAndGlyphs">Spacers detected multiple times</text>
<path class="so" d="M1529,1230H1597L1606,1239L1597,1248H1529Z"/>
<text x="1620" y="1248" class="lg" textLength="360" lengthAdjust="spacingAndGlyphs">Spacers detected only once</text>
<use href="#dt" x="1565" y="1272" class="dt"/>
<text x="1620" y="1282" class="lg" textLength="284" lengthAdjust="spacingAndGlyphs">Self-targeting spacers</text>
<use href="#tr" x="1565" y="1306" class="tr"/>
<text x="1620" y="1316" class="lg" textLength="318" lengthAdjust="spacingAndGlyphs">Phage-targeting spacers</text>
</g>

<!-- ================= PANEL C ================= -->
<text x="3" y="1575" font-size="33">C</text>

<g id="c1">
<text x="101" y="1567" class="tt" textLength="642" lengthAdjust="spacingAndGlyphs">(1) GD2_1_scaffold_1589_curated (346,671 bp)</text>
<g font-size="24">
<text x="109" y="1612">134,500</text>
<text x="250" y="1612">135,500</text>
<text x="353" y="1612">253,500</text>
<text x="1331" y="1612">259,000</text>
<text x="1436" y="1612">291,000</text>
<text x="1797" y="1612">293,000</text>
</g>
<path class="tk" d="M143,1621v9M335,1621v9M354,1621v9M1421,1621v9M1440,1621v9M1829,1621v9"/>
<path class="ax" d="M143,1645H335M354,1645H1421M1440,1645H1829"/>
<path class="brk" d="M335,1636q5,4.5 0,9q-5,4.5 0,9M354,1636q5,4.5 0,9q-5,4.5 0,9M1421,1636q5,4.5 0,9q-5,4.5 0,9M1440,1636q5,4.5 0,9q-5,4.5 0,9"/>
<rect x="388" y="1636" width="1005" height="18" rx="4" fill="#b3b3b3"/>
<text x="880" y="1649" font-size="12" text-anchor="middle" style="fill:#555">CRISPR-CasY region</text>
<path class="rt" d="M268,1637v16M1619,1637v16"/>
<path class="so" d="M226,1661H287L297,1675.5L287,1690H226Z"/>
<text x="258" y="1684" font-size="22" text-anchor="middle">2</text>
<text x="226" y="1725" class="gl" font-size="25" textLength="517" lengthAdjust="spacingAndGlyphs">SUF system FeS assembly protein, NifU family</text>
<path class="gs" d="M1532,1676.5L1544,1660H1775V1693H1544Z" fill="#c49a6c"/>
<text x="1532" y="1725" font-size="25">Mn<tspan font-size="15" dy="-10">2+</tspan><tspan dy="10"> and Fe</tspan><tspan font-size="15" dy="-10">2+</tspan><tspan dy="10"> transporter</tspan></text>
</g>

<g id="c2">
<text x="98" y="1820" class="tt" textLength="606" lengthAdjust="spacingAndGlyphs">(2) GD2_1_scaffold_263_curated (59,838 bp)</text>
<g class="tl">
<text x="136" y="1860">4,000</text>
<text x="472" y="1860">4,700</text>
<text x="790" y="1860">5,400</text>
<text x="876" y="1860">27,800</text>
<text x="1033" y="1860">28,200</text>
<text x="1189" y="1860">28,600</text>
<text x="1284" y="1860">50,800</text>
<text x="1535" y="1860">51,400</text>
<text x="1782" y="1860">52,000</text>
</g>
<path class="tk" d="M133,1872v9M470,1872v9M811,1872v9M837,1872v9M1030,1872v9M1223,1872v9M1246,1872v9M1536,1872v9M1826,1872v9"/>
<path class="ax" d="M133,1900H811M837,1900H1223M1246,1900H1826"/>
<path class="brk" d="M811,1891q5,4.5 0,9q-5,4.5 0,9M837,1891q5,4.5 0,9q-5,4.5 0,9M1223,1891q5,4.5 0,9q-5,4.5 0,9M1246,1891q5,4.5 0,9q-5,4.5 0,9"/>
<path class="rt" d="M470,1892v16M1012,1892v16M1529,1892v16"/>
<path class="gs" d="M456,1934.5L467,1922H763V1947H467Z" fill="#8f9ad0"/>
<text x="462" y="1943" font-size="23" textLength="298" lengthAdjust="spacingAndGlyphs">PINc domain ribonuclease</text>
<path class="gs" d="M936,1935L947,1922H1163V1948H947Z" fill="#fcef9c"/>
<text x="942" y="1944" font-size="23" textLength="237" lengthAdjust="spacingAndGlyphs">Hyp-transmembrane</text>
<path class="so" d="M1350,1935L1362,1923H1748V1947H1362Z"/>
<text x="1555" y="1943" font-size="22" text-anchor="middle">4</text>
<text x="1411" y="1977" font-size="25" textLength="272" lengthAdjust="spacingAndGlyphs">Transmembrane regions</text>
<path class="gs" d="M200,1963H468L479,1976.5L468,1990H200Z" fill="#8f9ad0"/>
<text x="337" y="1985" font-size="23" text-anchor="middle">Hyp</text>
</g>

<g id="c3">
<text x="102" y="2107" class="tt" textLength="609" lengthAdjust="spacingAndGlyphs">(3) GD2_1_scaffold_294_curated (79,952 bp)</text>
<g class="tl">
<text x="136" y="2152">6,000</text>
<text x="432" y="2152">12,000</text>
<text x="689" y="2152">18,000</text>
<text x="781" y="2152">44,000</text>
<text x="910" y="2152">48,000</text>
<text x="1000" y="2152">78,000</text>
<text x="1092" y="2152">79,867</text>
</g>
<path class="tk" d="M133,2162v9M428,2162v9M724,2162v9M747,2162v9M943,2162v9M965,2162v9M1057,2162v9"/>
<path class="ax" d="M133,2187H724M747,2187H943M965,2187H1057"/>
<path class="brk" d="M724,2178q5,4.5 0,9q-5,4.5 0,9M747,2178q5,4.5 0,9q-5,4.5 0,9M943,2178q5,4.5 0,9q-5,4.5 0,9M965,2178q5,4.5 0,9q-5,4.5 0,9"/>
<rect x="179" y="2172" width="525" height="30" rx="3" fill="#bcbec0"/>
<text x="460" y="2195" font-size="24" text-anchor="middle" textLength="338" lengthAdjust="spacingAndGlyphs" style="fill:#3d3d3d">CRISPR-Cas type III-A system</text>
<path class="rt" d="M848,2179v16M998,2179v16"/>
<path class="gs" d="M815,2218L830,2203H871V2233H830Z" fill="#c0679e"/>
<path d="M995,2218L1011,2203V2233Z" fill="#ed1c24"/>
<text x="525" y="2265" font-size="25" textLength="421" lengthAdjust="spacingAndGlyphs">Major facilitator superfamily permease</text>
<text x="992" y="2265" font-size="25" textLength="52" lengthAdjust="spacingAndGlyphs">gnfR</text>
</g>

<g id="c4">
<text x="1193" y="2107" class="tt" textLength="607" lengthAdjust="spacingAndGlyphs">(4) GD2_1_scaffold_57_curated (141,344 bp)</text>
<g class="tl">
<text x="1261" y="2152">16,400</text>
<text x="1379" y="2152">16,800</text>
<text x="1505" y="2152">17,200</text>
</g>
<path class="tk" d="M1261,2162v9M1379,2162v9M1493,2162v9"/>
<path class="ax" d="M1258,2187H1493"/>
<path class="rt" d="M1347,2179v16"/>
<path class="gs" d="M1291,2203H1443L1454,2218L1443,2233H1291Z" fill="#f6c04e"/>
<text x="1291" y="2265" font-size="25" textLength="299" lengthAdjust="spacingAndGlyphs">Sigma-70 RNA polymerase</text>
</g>

<g id="c5">
<text x="101" y="2381" class="tt" textLength="609" lengthAdjust="spacingAndGlyphs">(5) GD2_1_scaffold_71_curated (107,912 bp)</text>
<g class="tl">
<text x="150" y="2425">2,500</text>
<text x="388" y="2425">4,000</text>
<text x="474" y="2425">60,250</text>
<text x="593" y="2425">60,750</text>
<text x="735" y="2425">61,250</text>
<text x="886" y="2425">61,750</text>
</g>
<path class="tk" d="M150,2439v9M418,2439v9M434,2439v9M593,2439v9M735,2439v9M886,2439v9"/>
<path class="ax" d="M107,2464H418M434,2464H886"/>
<path class="brk" d="M418,2455q5,4.5 0,9q-5,4.5 0,9M434,2455q5,4.5 0,9q-5,4.5 0,9"/>
<path class="rt" d="M257,2456v16M605,2456v16"/>
<path class="gs" d="M106,2498.5L118,2484H299V2513H118Z" fill="#b5453f"/>
<path class="gs" d="M475,2484H500L510,2498.5L500,2513H475Z" fill="#bcbec0"/>
<rect class="gs" x="551" y="2484" width="20" height="29" rx="3" fill="#bcbec0"/>
<rect class="gs" x="575" y="2484" width="22" height="29" rx="3" fill="#bcbec0"/>
<rect class="gs" x="597" y="2484" width="195" height="29" rx="3" fill="#f3c4dc"/>
<path class="gs" d="M795,2498.5L807,2484H875V2513H807Z" fill="#bcbec0"/>
<text x="107" y="2541" font-size="24" textLength="244" lengthAdjust="spacingAndGlyphs">DMT family permease</text>
<text x="470" y="2541" font-size="24">Hyp</text>
<text x="533" y="2541" font-size="24">His</text>
<text x="573" y="2541" font-size="24">Thr</text>
<text x="621" y="2541" font-size="24" textLength="185" lengthAdjust="spacingAndGlyphs">Intergenic region</text>
<text x="821" y="2541" font-size="24">Hyp</text>
</g>

<g id="c6">
<text x="993" y="2381" class="tt" textLength="608" lengthAdjust="spacingAndGlyphs">(6) GD2_1_scaffold_238_curated (50,270 bp)</text>
<g class="tl">
<text x="1027" y="2425">3,000</text>
<text x="1250" y="2425">4,000</text>
<text x="1450" y="2425">5,000</text>
<text x="1538" y="2425">28,000</text>
<text x="1733" y="2425">29,000</text>
</g>
<path class="tk" d="M1027,2439v9M1250,2439v9M1474,2439v9M1507,2439v9M1730,2439v9"/>
<path class="ax" d="M1027,2464H1474M1507,2464H1730"/>
<path class="brk" d="M1474,2455q5,4.5 0,9q-5,4.5 0,9M1507,2455q5,4.5 0,9q-5,4.5 0,9"/>
<path class="rt" d="M1338,2456v16M1617,2456v16"/>
<path class="so" d="M1123,2484H1370L1382,2498.5L1370,2513H1123Z"/>
<text x="1248" y="2507" font-size="22" text-anchor="middle">5</text>
<text x="1122" y="2541" font-size="25" textLength="271" lengthAdjust="spacingAndGlyphs">Transmembrane regions</text>
<path class="so" d="M1549,2484H1711L1723,2498.5L1711,2513H1549Z"/>
<text x="1635" y="2507" font-size="22" text-anchor="middle">3</text>
<text x="1733" y="2509" font-size="25" textLength="211" lengthAdjust="spacingAndGlyphs">CCC1-related iron/</text>
<text x="1561" y="2541" font-size="25" textLength="390" lengthAdjust="spacingAndGlyphs">manganese transporter component</text>
</g>
</svg>
